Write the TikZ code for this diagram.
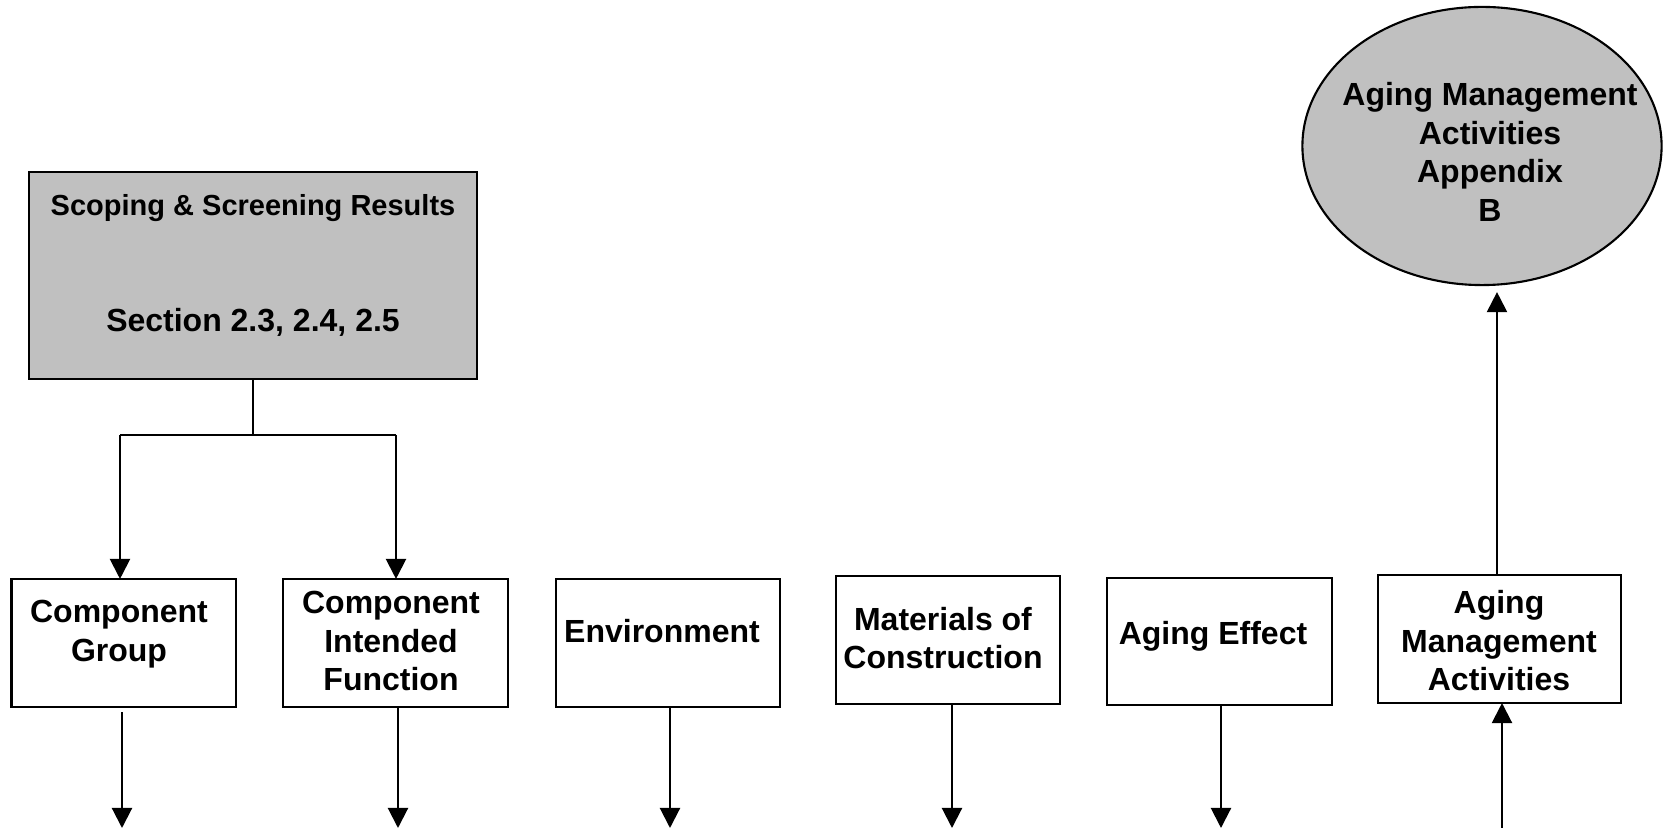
\documentclass[tikz,border=0pt]{standalone}
\usepackage{fontspec}
\setmainfont{Liberation Sans}
\usetikzlibrary{arrows.meta,shapes.geometric}
\definecolor{boxgray}{HTML}{C0C0C0}
\tikzset{
  every node/.style={inner sep=0pt, outer sep=0pt},
  frame/.style={draw, line width=0.6pt, rectangle},
  graybox/.style={frame, fill=boxgray},
  txt/.style={align=center, font=\fontsize{9.1pt}{10.95pt}\selectfont\bfseries},
  smalltxt/.style={align=center, font=\fontsize{8.25pt}{10pt}\selectfont\bfseries},
  conn/.style={line width=0.6pt},
  arr/.style={conn, -{Triangle[length=5.7pt, width=5.7pt]}}
}
\begin{document}
\begin{tikzpicture}[x=0.01cm, y=-0.01cm]
\useasboundingbox (0,0) rectangle (1663,828);

% top gray box
\node[graybox, minimum width=4.48cm, minimum height=2.07cm] (top) at (253,275.5) {};
\node[smalltxt] (sc1) at (253,208) {Scoping \& Screening Results};
\node[txt] (sc2) at (253,322) {Section 2.3, 2.4, 2.5};

% ellipse
\node[draw, line width=0.6pt, ellipse, fill=boxgray, minimum width=3.59cm, minimum height=2.78cm] (ell) at (1482,146) {};
\node[txt] (ellt) at (1490,152) {Aging Management\\Activities\\Appendix\\B};

% row of boxes
\node[frame, minimum width=2.24cm, minimum height=1.28cm] (b1) at (123.6,643) {};
\node[frame, minimum width=2.25cm, minimum height=1.28cm] (b2) at (395.5,643) {};
\node[frame, minimum width=2.24cm, minimum height=1.28cm] (b3) at (668,643) {};
\node[frame, minimum width=2.24cm, minimum height=1.28cm] (b4) at (948,640) {};
\node[frame, minimum width=2.25cm, minimum height=1.27cm] (b5) at (1219.5,641.5) {};
\node[frame, minimum width=2.43cm, minimum height=1.28cm] (b6) at (1499.5,639) {};

\node[txt] (t1) at (119,634) {Component\\Group};
\node[txt] (t2) at (391,641) {Component\\Intended\\Function};
\node[txt] (t3) at (662,631) {Environment};
\node[txt] (t4) at (943,638) {Materials of\\Construction};
\node[txt] (t5) at (1213,636) {Aging Effect};
\node[txt] (t6) at (1499,641) {Aging\\Management\\Activities};

% split from top box
\coordinate (cl) at (120,435);
\coordinate (cr) at (396,435);
\draw[conn] (top.south) -- (top.south |- cl);
\draw[conn] (cl) -- (cr);
\draw[arr] (cl) -- (cl |- b1.north);
\draw[arr] (cr) -- (cr |- b2.north);

% outgoing arrows at the bottom
\coordinate (o1) at (122,828);
\coordinate (o2) at (398,828);
\coordinate (o3) at (670,828);
\coordinate (o4) at (952,828);
\coordinate (o5) at (1221,828);
\draw[arr] ([yshift=-0.05cm]o1 |- b1.south) -- (o1);
\draw[arr] (o2 |- b2.south) -- (o2);
\draw[arr] (o3 |- b3.south) -- (o3);
\draw[arr] (o4 |- b4.south) -- (o4);
\draw[arr] (o5 |- b5.south) -- (o5);

% incoming arrow to aging management activities
\coordinate (i6) at (1502,828);
\draw[arr] (i6) -- (i6 |- b6.south);

% to ellipse
\coordinate (u6) at (1497,575);
\draw[arr, shorten >=2pt] (u6 |- b6.north) -- (u6 |- ell.south);
\end{tikzpicture}
\end{document}
